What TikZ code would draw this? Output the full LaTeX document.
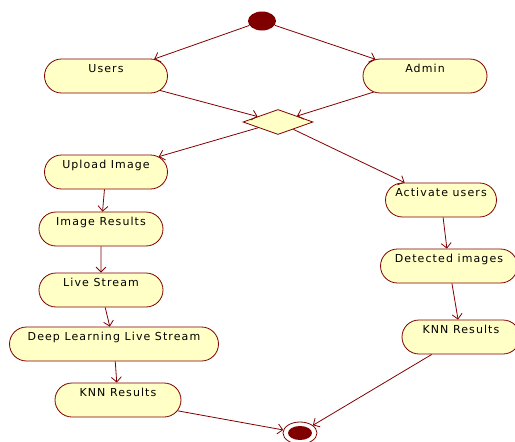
\documentclass[tikz,border=0pt]{standalone}
\usepackage{fontspec}
\setmainfont{DejaVu Sans}[LetterSpace=10]
\usetikzlibrary{arrows.meta,shapes.misc,shapes.geometric}
\definecolor{umlred}{HTML}{800000}
\definecolor{umlfill}{HTML}{FFFFC6}
\begin{document}
\begin{tikzpicture}[x=1pt,y=-1pt,line width=0.8pt,
  act/.style={draw=umlred,fill=umlfill,rounded rectangle,minimum height=34pt,
    inner ysep=2pt,inner xsep=0pt,text height=11pt,text depth=19pt,
    font=\fontsize{11}{13}\selectfont},
  flow/.style={draw=umlred,-{Straight Barb[length=5pt,width=10pt]}}]
\useasboundingbox (0,0) rectangle (515,442);
% start and end
\node[ellipse,fill=umlred,inner sep=0pt,minimum width=28pt,minimum height=19pt] (start) at (262,21) {};
\node[ellipse,draw=umlred,fill=white,inner sep=0pt,minimum width=34pt,minimum height=22pt] (stop) at (300,433) {};
\node[ellipse,fill=umlred,inner sep=0pt,minimum width=24pt,minimum height=14pt] (stopdot) at (300,433) {};
% activities
\node[act,minimum width=123pt] (users) at (106,76) {Users};
\node[act,minimum width=124pt] (admin) at (425,76) {Admin};
\node[diamond,draw=umlred,fill=umlfill,inner sep=0pt,minimum width=70pt,minimum height=25pt] (choice) at (278,122) {};
\node[act,minimum width=123pt] (upload) at (106,172) {Upload Image};
\node[act,minimum width=124pt] (imgres) at (101,229) {Image Results};
\node[act,minimum width=124pt] (live) at (101,290) {Live Stream};
\node[act,minimum width=209pt] (deep) at (114,344) {Deep Learning Live Stream};
\node[act,minimum width=126pt] (knnl) at (118,400) {KNN Results};
\node[act,minimum width=111pt] (activate) at (441,200) {Activate users};
\node[act,minimum width=137pt] (detected) at (449,266) {Detected images};
\node[act,minimum width=118pt] (knnr) at (461,337) {KNN Results};
% flows
\draw[flow] (start) -- (users);
\draw[flow] (start) -- (admin);
\draw[flow] (users) -- (choice);
\draw[flow] (admin) -- (choice);
\draw[flow] (choice) -- (upload);
\draw[flow] (choice) -- (activate);
\draw[flow] (upload) -- (imgres);
\draw[flow] (imgres) -- (live);
\draw[flow] (live) -- (deep);
\draw[flow] (deep) -- (knnl);
\draw[flow] (knnl) -- (stop);
\draw[flow] (activate) -- (detected);
\draw[flow] (detected) -- (knnr);
\draw[flow] (knnr) -- (stop);
\end{tikzpicture}
\end{document}
